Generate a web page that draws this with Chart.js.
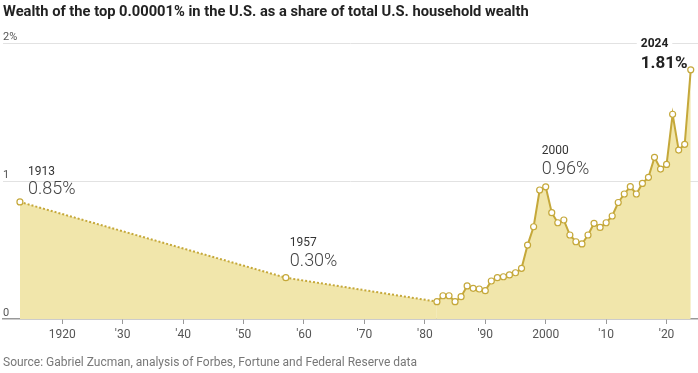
<!DOCTYPE html>
<html>
<head>
<meta charset="utf-8">
<script src="https://cdn.jsdelivr.net/npm/chart.js@4/dist/chart.umd.min.js"></script>
<style>
    body { margin: 0; background: #fff; }
    #wrap { width: 698px; height: 373px; position: relative; }
</style>
</head>
<body>
<div id="wrap"><canvas id="chart"></canvas></div>
<script>
const years = [1913, 1957, 1982, 1983, 1984, 1985, 1986, 1987, 1988, 1989, 1990,
    1991, 1992, 1993, 1994, 1995, 1996, 1997, 1998, 1999, 2000,
    2001, 2002, 2003, 2004, 2005, 2006, 2007, 2008, 2009, 2010,
    2011, 2012, 2013, 2014, 2015, 2016, 2017, 2018, 2019, 2020,
    2021, 2022, 2023, 2024];
const shares = [0.85, 0.30, 0.126, 0.169, 0.169, 0.126, 0.162, 0.240, 0.223, 0.218, 0.206,
    0.276, 0.300, 0.307, 0.320, 0.336, 0.368, 0.537, 0.670, 0.937, 0.96,
    0.772, 0.699, 0.719, 0.610, 0.561, 0.545, 0.610, 0.695, 0.665, 0.699,
    0.748, 0.846, 0.908, 0.961, 0.908, 0.985, 1.029, 1.174, 1.089, 1.123,
    1.487, 1.227, 1.269, 1.81];
// 1982 이전은 점선
const annualFrom = 1982;

const xTickYears = [1920, 1930, 1940, 1950, 1960, 1970, 1980, 1990, 2000, 2010, 2020];
const xTickLabels = ['1920', '\u203230', '\u203240', '\u203250', '\u203260', '\u203270', '\u203280', '\u203290', '2000', '\u203210', '\u203220'];
const yTickValues = [0, 1, 2];
const yTickLabels = ['0', '1', '2%'];

const callouts = [
    { year: 1913, top: '1913', bottom: '0.85%' },
    { year: 1957, top: '1957', bottom: '0.30%' },
    { year: 2000, top: '2000', bottom: '0.96%' },
    { year: 2024, top: '2024', bottom: '1.81%', strong: true }
];

const FONT = `'Roboto', sans-serif`;
const LINE = '#c5a83a';
const FILL = '#f1e6ab';

// 주석 위치 (점 기준 offset)
const calloutPos = {
    1913: { dx: 8, dyTop: -30, dyBottom: -12 },
    1957: { dx: 4, dyTop: -35, dyBottom: -16 },
    2000: { dx: -4, dyTop: -36, dyBottom: -17 },
    2024: { dx: -50, dyTop: -26, dyBottom: -6 }
};

const calloutPlugin = {
    id: 'callouts',
    afterDatasetsDraw(chart) {
        const { ctx, scales: { x, y } } = chart;
        ctx.save();
        ctx.textAlign = 'left';
        ctx.textBaseline = 'middle';
        callouts.forEach(c => {
            const i = years.indexOf(c.year);
            const px = x.getPixelForValue(c.year);
            const py = y.getPixelForValue(shares[i]);
            const p = calloutPos[c.year];
            const tx = px + p.dx;
            ctx.font = `${c.strong ? 'bold ' : ''}12px ${FONT}`;
            if (c.strong) {
                // 그리드 라인 가리기
                ctx.fillStyle = '#fff';
                ctx.fillRect(tx - 4, py + p.dyTop - 8, ctx.measureText(c.top).width + 8, 16);
            }
            ctx.fillStyle = c.strong ? '#222' : '#333';
            ctx.fillText(c.top, tx, py + p.dyTop);
            ctx.font = c.strong ? `bold 17px ${FONT}` : `300 18px ${FONT}`;
            ctx.fillStyle = c.strong ? '#222' : '#444';
            ctx.fillText(c.bottom, tx, py + p.dyBottom);
        });
        ctx.restore();
    }
};

new Chart(document.getElementById('chart'), {
    type: 'line',
    data: {
        datasets: [{
            data: years.map((yr, i) => ({ x: yr, y: shares[i] })),
            borderColor: LINE,
            borderWidth: 2,
            backgroundColor: FILL,
            fill: 'origin',
            tension: 0,
            pointRadius: 3,
            pointBorderWidth: 1.2,
            pointBackgroundColor: '#fff',
            pointBorderColor: LINE,
            clip: false,
            segment: {
                borderDash: c => c.p1.parsed.x <= annualFrom ? [2, 2] : undefined
            }
        }]
    },
    options: {
        responsive: true,
        maintainAspectRatio: false,
        animation: false,
        layout: { autoPadding: false, padding: { left: 3, right: 0, top: 0, bottom: 0 } },
        plugins: {
            legend: { display: false },
            tooltip: { enabled: false },
            title: {
                display: true,
                text: 'Wealth of the top 0.00001% in the U.S. as a share of total U.S. household wealth',
                align: 'start',
                color: '#222',
                font: { family: FONT, size: 14.7, weight: 'bold' },
                padding: { top: 4, bottom: 22 }
            },
            subtitle: {
                display: true,
                position: 'bottom',
                text: 'Source: Gabriel Zucman, analysis of Forbes, Fortune and Federal Reserve data',
                align: 'start',
                color: '#777',
                font: { family: FONT, size: 12 },
                padding: { top: 9.4, bottom: 2.8 }
            }
        },
        scales: {
            x: {
                type: 'linear',
                min: 1910.2,
                max: 2025.2,
                afterBuildTicks: s => { s.ticks = xTickYears.map(v => ({ value: v })); },
                ticks: {
                    color: '#555',
                    font: { family: FONT, size: 12 },
                    padding: 4,
                    maxRotation: 0,
                    autoSkip: false,
                    callback: v => xTickLabels[xTickYears.indexOf(v)]
                },
                grid: { drawOnChartArea: false, drawTicks: true, tickLength: 5, color: '#999' },
                border: { display: true, color: '#999', width: 1.5 }
            },
            y: {
                min: 0,
                max: 2,
                afterBuildTicks: s => { s.ticks = yTickValues.map(v => ({ value: v })); },
                ticks: {
                    mirror: true,
                    padding: 0,
                    labelOffset: -6,
                    color: '#555',
                    font: { family: FONT, size: 11 },
                    callback: v => yTickLabels[yTickValues.indexOf(v)]
                },
                grid: {
                    drawTicks: false,
                    color: c => c.tick && c.tick.value === 0 ? 'rgba(0,0,0,0)' : '#e2e2e2'
                },
                border: { display: false }
            }
        }
    },
    plugins: [calloutPlugin]
});
</script>
</body>
</html>
